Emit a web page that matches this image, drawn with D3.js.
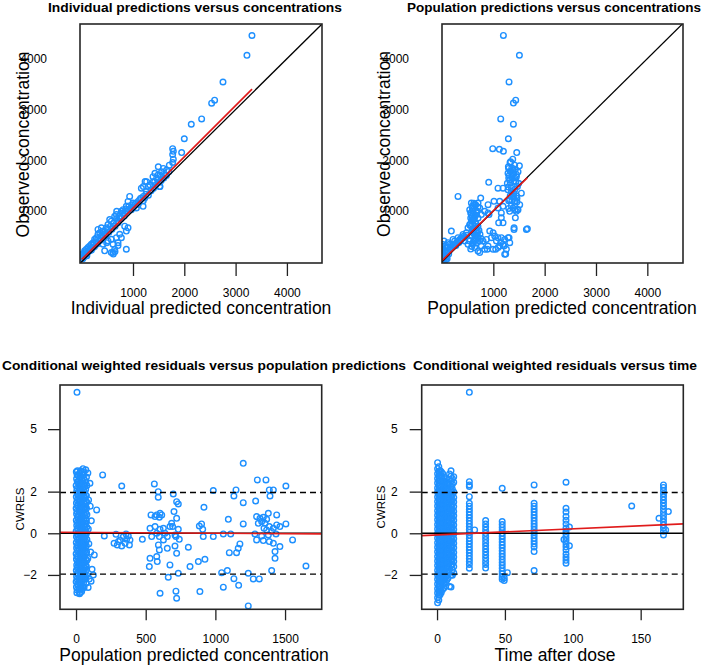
<!DOCTYPE html>
<html><head><meta charset="utf-8">
<script src="https://cdn.jsdelivr.net/npm/d3@7"></script>
<style>body{margin:0;background:#fff} text{font-family:"Liberation Sans",Arial,sans-serif;fill:#000}</style>
</head><body>
<svg id="c" width="708" height="666"></svg>
<script>
// ---------- DATA ----------
// Panel 1: individual prediction vs observed concentration
const ipredObs = [[3319,4457],[3221,4067],[2754,3541],[2591,3183],[2533,3125],[2338,2813],[2136,2709],[2000,2423],[1948,2150],[1773,2228],[1786,2176],[1773,2111],[1786,2020],[1773,1955],[1708,1903],[1591,1838],[1493,1871],[1656,1806],[1558,1773],[1428,1741],[1526,1708],[1623,1708],[1461,1643],[1266,1578],[1396,1578],[1201,1481],[1331,1514],
[1488,1708],[1390,1676],[1520,1481],[1293,1481],[1163,1448],[1260,1384],[935,1286],[903,1189],[1000,1156],[1130,1221],[1228,1254],[1196,1091],[1066,1059],[870,1091],[968,1026],[838,961],[773,994],[643,896],[741,864],[578,799],[708,766],[611,701],[513,734],[481,669],[416,604],[351,571],[318,539],[286,474],[221,376],[156,311],[91,246],[58,181],[26,149],[10,120],
[870,246],[708,376],[611,344],[643,246],[578,181],[610,181],[708,318],[448,214],[416,344],[773,474],[838,701],[903,669],[870,604],[741,539],[676,474],[578,441],[513,409],
[383,506],[253,441],[188,344],[123,279],[58,214],[6,149],[318,636],[383,669],[546,831],[676,929],[806,1026],[1033,1124],[1098,1189],[1358,1416],[1423,1579],[1553,1676],[448,539],[286,376],[221,279],[156,214],[91,149],[26,84],[20,60],
[1236,1579],[1526,1481],[682,994],[487,376],[649,200],[616,150],[877,994],[1201,1286],
[40,90],[70,150],[100,120],[130,200],[160,260],[190,230],[220,330],[250,300],[280,420],[300,350],[330,460],[360,420],[390,520],[420,470],[450,600],[470,520],[500,640],[530,580],[560,700],[590,640],[620,760],[650,700],[680,850],[710,800],[740,900],[770,850],[800,960],[830,900],[860,1040],[890,1000],[920,1100],[950,1050],[980,1120],[1010,1080],[1050,1150],[1100,1130],[1150,1250],[1200,1200],[1250,1330],[1300,1310],[1350,1400],[1400,1450],[1450,1520],[1500,1560],[1550,1600],[1600,1650],[1650,1700],[1700,1780]];
const ipredFit = [[0,45],[3320,3400]];

// Panel 2: population prediction vs observed concentration
const predObs = [[1196,4457],[1508,4067],[1306,3541],[1436,3183],[1391,3125],[1144,2813],[1391,2709],[1293,2423],[988,2228],[1118,2215],[1196,2176],[1456,2150],[1378,2020],[1326,1955],[1508,1890],[1293,1871],
[1338,1968],[1416,1903],[1299,1838],[1384,1806],[1481,1773],[1286,1741],[1364,1676],[1449,1676],[1319,1611],[1403,1578],[1494,1546],[1273,1546],[910,1565],[1091,1448],[1189,1448],[1286,1416],[312,1286],[1546,1351],[1351,1383],[1384,1286],[1319,1221],[1416,1189],[1481,1026],[1384,1059],[1319,993],[1449,993],[1514,1124],[1124,1189],[1189,1091],[1091,1059],[1156,961],[1104,766],[1189,766],[1156,864],[1429,864],[1403,636],[1644,636],
[572,1156],[637,1123],[702,1156],[735,1058],[670,993],[605,993],[540,1026],[572,928],[637,896],[702,863],[767,928],[832,993],[897,1123],[897,961],[182,603],
[52,310],[117,375],[214,440],[312,473],[409,538],[474,570],[507,668],[540,733],[572,798],[605,830],[20,245],[10,180],[84,278],[150,343],[247,408],[344,440],[377,473],[280,375],[182,330],[117,278],[52,213],[20,148],[84,180],[10,83],[10,278],[10,343],[39,408],
[540,408],[605,375],[670,375],[735,408],[800,408],[865,440],[962,473],[1027,505],[1092,473],[1157,473],[1222,440],[1287,473],[1320,375],[1190,343],[1092,278],[995,245],[897,310],[767,310],[637,278],[702,213],[735,180],[1125,310],[1222,148],[1255,245],[930,603],[995,570],[1060,408],[832,245],[507,343],[442,408],[670,505],
[559,960],[585,895],[624,830],[650,765],[572,700],[624,635],[670,668],[605,570],[689,603],[650,538],
[1663,650],[1404,668],[1241,150],[1306,474],[1143,376],[1208,310],[883,246],[1046,246],
[1350,1450],[1420,1430],[1450,1300],[1400,1250],[1300,1200],[1460,1180],[1350,1100],[1420,1020],[1470,1030],[1013,1189],[916,928],[754,1253],[676,961],[656,1123],[590,1092],
[560,250],[580,300],[600,350],[620,420],[640,480],[660,520],[690,560],[580,600],[610,650],[640,700],[660,760],[600,800],[630,860],[660,920],[610,940],[680,1000],[590,1050],[700,1080],[620,1150],[560,860],[545,720],[700,700],[720,620],[740,540],[700,480],[760,460],[650,420],[580,520],[620,560],
[30,60],[60,120],[90,100],[120,200],[150,240],[180,280],[210,300],[240,340],[270,320],[300,400],[330,380],[360,420],[390,460],[420,500],[450,480],[480,520],[40,30],[70,40],[100,60],[130,150],[20,100],[5,30],
[1310,1700],[1330,1780],[1360,1850],[1400,1750],[1430,1820],[1450,1720],[1300,1650],[1420,1650],[1370,1720],[1330,1560],[1440,1580],[1470,1480],[1290,1470],[1400,1350],[1330,1300],[1360,1200],[1300,1050],[1420,1100],[1460,1250]];
const predFit = [[0,20],[1660,1650]];

// Panel 3: population prediction vs CWRES
const predCwres = [
[2,2.95],[4,2.62],[1,2.3],[5,2.02],[2,1.75],[3,1.46],[1,1.2],[4,0.92],[2,0.63],[5,0.37],[1,0.1],[3,-0.17],[2,-0.44],[4,-0.71],[1,-0.98],[3,-1.25],[5,-1.52],[2,-1.79],[4,-2.06],[1,-2.33],[3,-2.58],[6,-2.85],
[18,2.78],[16,2.48],[20,2.2],[15,1.9],[19,1.62],[17,1.33],[21,1.05],[16,0.78],[19,0.5],[18,0.22],[15,-0.05],[20,-0.31],[17,-0.58],[19,-0.85],[16,-1.12],[21,-1.39],[18,-1.66],[15,-1.93],[20,-2.2],[17,-2.47],[22,-2.7],
[33,3.0],[31,2.7],[35,2.4],[32,2.12],[34,1.84],[30,1.56],[36,1.28],[33,1.0],[31,0.72],[35,0.44],[32,0.16],[34,-0.12],[30,-0.4],[36,-0.68],[33,-0.96],[31,-1.24],[35,-1.52],[32,-1.8],[34,-2.08],[30,-2.36],[36,-2.62],[40,-2.8],
[50,3.1],[48,2.8],[46,2.5],[49,2.22],[47,1.94],[50,1.66],[45,1.38],[48,1.1],[46,0.82],[49,0.54],[47,0.26],[50,-0.02],[45,-0.3],[48,-0.58],[46,-0.86],[49,-1.14],[47,-1.42],[50,-1.7],[45,-1.98],[48,-2.26],[52,-2.55],
[62,2.55],[64,2.25],[61,1.97],[65,1.69],[62,1.41],[60,1.13],[64,0.85],[61,0.57],[63,0.29],[65,0.01],[60,-0.27],[64,-0.55],[62,-0.83],[61,-1.11],[63,-1.39],[65,-1.67],[60,-1.95],[64,-2.2],
[75,2.7],[78,2.3],[74,1.8],[77,1.5],[75,1.2],[78,0.9],[74,0.6],[77,0.3],[75,0.0],[78,-0.3],[74,-0.6],[76,-0.9],[78,-1.3],[74,-1.6],[76,-2.0],
[85,2.9],[70,3.05],[90,1.6],[88,0.2],[92,-0.5],[85,-1.2],[95,-2.2],[87,-2.6],[25,-2.9],[10,3.0],
[8,2.8],[9,2.47],[7,2.16],[10,1.88],[8,1.6],[9,1.32],[7,1.05],[10,0.78],[8,0.5],[9,0.23],[7,-0.04],[10,-0.3],[8,-0.57],[9,-0.84],[7,-1.11],[10,-1.38],[8,-1.65],[9,-1.92],[7,-2.2],[10,-2.45],[8,-2.72],
[26,2.9],[25,2.6],[27,2.33],[24,2.05],[26,1.77],[25,1.48],[27,1.19],[24,0.91],[26,0.64],[25,0.36],[27,0.08],[24,-0.2],[26,-0.46],[25,-0.73],[27,-1.0],[24,-1.27],[26,-1.54],[25,-1.81],[27,-2.08],[24,-2.35],[26,-2.6],[28,-2.85],
[41,2.92],[40,2.6],[42,2.28],[39,2.0],[41,1.72],[40,1.43],[42,1.14],[39,0.86],[41,0.58],[40,0.3],[42,0.02],[39,-0.26],[41,-0.54],[40,-0.82],[42,-1.1],[39,-1.38],[41,-1.66],[40,-1.94],[42,-2.22],[39,-2.48],[43,-2.7],
[56,2.95],[55,2.65],[57,2.36],[54,2.08],[56,1.8],[55,1.52],[57,1.24],[54,0.96],[56,0.68],[55,0.4],[57,0.12],[54,-0.16],[56,-0.44],[55,-0.72],[57,-1.0],[54,-1.28],[56,-1.56],[55,-1.84],[57,-2.1],[54,-2.38],[58,-2.6],
[70,2.45],[69,2.1],[71,1.83],[68,1.55],[70,1.27],[69,0.99],[71,0.71],[68,0.43],[70,0.15],[69,-0.13],[71,-0.41],[68,-0.69],[70,-0.97],[69,-1.25],[71,-1.53],[68,-1.81],[70,-2.1],[72,-2.4],
[7,6.77],[191,2.8],[148,1.12],[203,-0.13],[131,-1.04],[115,-1.73],[124,-2.0],[110,0.6],[105,-0.9],[100,2.4],[102,1.3],[108,-2.3],
[328,2.27],[287,-0.05],[273,-0.48],[296,-0.56],[316,-0.32],[340,-0.16],[359,-0.03],[375,-0.13],[387,-0.32],[383,-0.56],[352,-0.48],[328,-0.61],[304,-0.4],[363,-0.29],[476,-0.29],
[562,2.37],[590,2.0],[590,1.73],[698,1.89],[722,1.52],[734,1.41],[538,0.88],[579,0.88],[603,0.96],[615,0.88],[598,0.77],[567,0.8],
[703,1.04],[722,0.72],[686,0.48],[674,0.32],[734,0.19],[710,-0.08],[693,0.32],
[531,0.24],[567,0.32],[603,0.19],[627,0.24],[638,0.0],[579,0.0],[543,-0.16],[598,-0.16],[627,-0.32],[655,-0.16],[717,-0.16],[741,-0.29],
[591,-0.56],[598,-0.8],[655,-0.72],[710,-0.61],[722,-0.96],[806,-0.67],[531,-1.2],[579,-1.12],[526,-1.6],[583,-1.36],[674,-1.52],
[662,-2.11],[734,-1.92],[603,-2.88],[717,-2.78],[722,-3.12],[818,-1.6],[878,-1.36],[925,-1.25],[889,-2.8],
[901,0.45],[909,0.19],[885,0.35],[913,-0.16],[985,-0.16],[918,1.25],[985,2.05],
[1057,-0.03],[1110,-0.03],[1093,0.67],[1200,0.45],[1100,-0.93],[1152,-0.93],[1164,-0.72],[1176,-0.51],[1133,1.79],[1148,2.08],[1200,1.47],[1200,3.36],
[1045,-1.89],[1086,-1.79],[1133,-2.18],[1167,-2.5],[1057,-2.59],[1236,-1.92],[1272,-2.19],[1315,-2.19],[1236,-3.49],[1289,1.55],[1301,2.56],
[1296,0.8],[1320,0.72],[1344,0.77],[1368,0.67],[1332,0.56],[1308,0.48],[1356,0.48],[1380,0.96],[1387,0.32],[1416,0.24],[1440,0.88],[1440,0.4],[1463,0.32],[1349,0.24],[1368,0.16],[1404,0.08],[1435,-0.03],[1380,-0.08],[1332,-0.13],[1296,-0.32],[1344,-0.35],[1387,-0.4],[1416,-0.48],[1463,-0.64],[1428,-0.88],[1428,-1.2],[1404,-1.79],[1506,0.45],[1554,-0.32],[1392,1.79],[1387,2.08],[1416,2.08],[1506,2.27],[1363,2.56],[1284,-0.03],[1650,-1.57]];
const cwresPredFit = [[-115,0.05],[1763,-0.03]];

// Panel 4: time after dose vs CWRES (grouped by sampling time)
const timeGroups = [
[0.4,[3.39,3.1,2.86,2.63,2.41,2.18,1.97,1.74,1.53,1.31,1.08,0.87,0.65,0.42,0.21,-0.01,-0.23,-0.46,-0.67,-0.89,-1.12,-1.33,-1.55,-1.78,-1.99,-2.21,-2.44,-2.66,-2.87,-3.09,-3.34]],
[1.3,[3.2,2.97,2.74,2.52,2.3,2.07,1.85,1.63,1.42,1.2,0.97,0.76,0.54,0.32,0.1,-0.12,-0.34,-0.56,-0.78,-1.0,-1.22,-1.44,-1.66,-1.88,-2.1,-2.32,-2.55,-2.77,-2.98,-3.2]],
[2.2,[3.02,2.77,2.52,2.3,2.07,1.85,1.62,1.4,1.19,0.96,0.74,0.53,0.3,0.08,-0.13,-0.35,-0.57,-0.79,-1.01,-1.23,-1.46,-1.67,-1.9,-2.12,-2.33,-2.56,-2.78,-2.95]],
[3.1,[2.95,2.72,2.48,2.25,2.02,1.79,1.57,1.35,1.13,0.91,0.69,0.47,0.25,0.03,-0.19,-0.41,-0.63,-0.85,-1.07,-1.29,-1.51,-1.73,-1.95,-2.17,-2.39,-2.62,-2.84]],
[4.1,[2.87,2.6,2.36,2.13,1.9,1.68,1.46,1.24,1.02,0.8,0.58,0.36,0.14,-0.08,-0.3,-0.52,-0.74,-0.96,-1.18,-1.4,-1.62,-1.84,-2.06,-2.28,-2.5,-2.7]],
[5.2,[2.7,2.48,2.25,2.02,1.79,1.57,1.35,1.13,0.91,0.69,0.47,0.25,0.03,-0.19,-0.41,-0.63,-0.85,-1.07,-1.29,-1.51,-1.73,-1.95,-2.17,-2.4,-2.62]],
[6.2,[2.5,2.27,2.04,1.82,1.6,1.38,1.16,0.94,0.72,0.5,0.28,0.06,-0.16,-0.38,-0.6,-0.82,-1.04,-1.26,-1.48,-1.7,-1.92,-2.14,-2.38]],
[7.1,[2.62,2.39,2.16,1.93,1.71,1.49,1.27,1.05,0.83,0.61,0.39,0.17,-0.05,-0.27,-0.49,-0.71,-0.93,-1.15,-1.37,-1.59,-1.81,-2.03,-2.26]],
[8.1,[2.35,2.1,1.86,1.63,1.41,1.19,0.97,0.75,0.53,0.31,0.09,-0.13,-0.35,-0.57,-0.79,-1.01,-1.23,-1.45,-1.67,-1.9,-2.15]],
[9.2,[2.85,2.6,2.37,2.13,1.89,1.67,1.45,1.23,1.01,0.79,0.57,0.35,0.13,-0.09,-0.31,-0.53,-0.75,-0.97,-1.19,-1.42,-1.65,-2.56]],
[10.3,[3.0,2.75,2.5,2.24,2.0,1.78,1.56,1.34,1.12,0.9,0.68,0.46,0.24,0.02,-0.2,-0.42,-0.64,-0.86,-1.08,-1.3,-1.55,-2.0,-2.58]],
[11.3,[2.62,2.36,2.11,1.87,1.61,1.39,1.17,0.95,0.73,0.51,0.29,0.07,-0.15,-0.37,-0.59,-0.81,-1.03,-1.25,-1.48,-1.75,-2.02]],
[12.3,[2.72,2.45,1.98,1.72,1.5,1.28,1.06,0.84,0.62,0.4,0.18,-0.04,-0.26,-0.48,-0.7,-0.92,-1.14,-1.36,-1.6,-1.9]],
[23.8,[6.77,2.48,2.32,2.25,1.76,1.44,1.3,1.16,1.02,0.88,0.74,0.6,0.46,0.32,0.18,0.04,-0.1,-0.24,-0.38,-0.52,-0.66,-0.8,-0.94,-1.08,-1.22,-1.36,-1.5,-1.68]],
[27.7,[0.16]],
[35.8,[0.61,0.45,0.3,0.15,0.0,-0.15,-0.3,-0.45,-0.6,-0.75,-0.9,-1.05,-1.2,-1.35,-1.5,-1.67]],
[48,[2.16,0.56,0.42,0.28,0.14,0.0,-0.14,-0.28,-0.42,-0.56,-0.7,-0.84,-0.98,-1.12,-1.26,-1.4,-1.54,-1.68,-1.82,-1.95,-2.1,-2.21]],
[49.5,[-2.15,-2.27]],[51.8,[-1.89]],
[71.5,[2.32,1.44,1.3,1.16,1.02,0.88,0.74,0.6,0.46,0.32,0.18,0.04,-0.1,-0.24,-0.38,-0.52,-0.66,-0.88,-1.79]],
[95,[2.45,1.2,1.02,0.8,0.62,0.45,0.25,0.1,-0.05,-0.2,-0.35,-0.5,-0.65,-0.8,-1.0,-1.15,-1.3,-1.44]],
[93.5,[-0.3]],[97.5,[-0.6,0.3]],
[143.4,[1.31]],
[166.8,[2.32,2.2,2.05,1.9,1.75,1.6,1.45,1.3,1.15,1.0,0.85,0.7,0.55,0.4,0.25,0.1,-0.08]],
[163.5,[0.72]],[170.4,[1.04]],[168.4,[0.16]]];
const cwresTimeFit = [[-11.3,-0.11],[181.4,0.45]];

const concTicks = [1000,2000,3000,4000];
const predTicks = [0,500,1000,1500];
const timeTicks = [0,50,100,150];
const cwresTicks = [-2,0,2,5];
const cwresRefs = [-1.96,1.96];

const titles = ["Individual predictions versus concentrations","Population predictions versus concentrations",
  "Conditional weighted residuals versus population predictions","Conditional weighted residuals versus time"];
const xLabels = ["Individual predicted concentration","Population predicted concentration","Population predicted concentration","Time after dose"];
const yLabels = ["Observed concentration","Observed concentration","CWRES","CWRES"];

// ---------- DRAW ----------
const svg = d3.select('#c');
const BLUE = '#1e90ff', RED = '#e01b1b';

function panel(o, i) {
  const x = d3.scaleLinear().domain(o.xd).range([o.l, o.r]);
  const y = d3.scaleLinear().domain(o.yd).range([o.b, o.t]);
  const g = svg.append('g');
  const cid = 'clip' + i;
  svg.append('clipPath').attr('id', cid).append('rect')
    .attr('x', o.l).attr('y', o.t).attr('width', o.r - o.l).attr('height', o.b - o.t);
  const inner = g.append('g').attr('clip-path', `url(#${cid})`);
  inner.selectAll('circle').data(o.pts).enter().append('circle')
    .attr('cx', d => x(d[0])).attr('cy', d => y(d[1])).attr('r', 2.8)
    .attr('fill', 'none').attr('stroke', BLUE).attr('stroke-width', 1.4);
  const line = d3.line().x(d => x(d[0])).y(d => y(d[1]));
  if (o.identity) {
    inner.append('path').attr('d', line([[o.xd[0]-500,o.xd[0]-500],[o.xd[1]+500,o.xd[1]+500]]))
      .attr('stroke', '#000').attr('stroke-width', 1.3).attr('fill', 'none');
  }
  if (o.refs) {
    inner.selectAll('.ref').data(o.refs).enter().append('line')
      .attr('x1', o.l).attr('x2', o.r).attr('y1', d => y(d)).attr('y2', d => y(d))
      .attr('stroke', '#000').attr('stroke-width', 1.4).attr('stroke-dasharray', '6,4');
    inner.append('line').attr('x1', o.l).attr('x2', o.r).attr('y1', y(0)).attr('y2', y(0))
      .attr('stroke', '#000').attr('stroke-width', 1.4);
  }
  inner.append('path').attr('d', line(o.fit)).attr('stroke', RED).attr('stroke-width', 1.7).attr('fill', 'none');

  // axes
  const ax = g.append('g').attr('transform', `translate(0,${o.b})`)
    .call(d3.axisBottom(x).tickValues(o.xt).tickSize(o.xtl).tickPadding(o.xtp).tickFormat(d3.format('d')));
  const ay = g.append('g').attr('transform', `translate(${o.l},0)`)
    .call(d3.axisLeft(y).tickValues(o.yt).tickSize(o.ytl).tickPadding(o.ytp).tickFormat(d3.format('d')));
  [ax, ay].forEach(a => {
    a.select('.domain').remove();
    a.selectAll('line').attr('stroke', '#222').attr('stroke-width', 1.3);
    a.selectAll('text').attr('font-size', 12).attr('fill', '#111').style('font-family', '"Liberation Sans",Arial,sans-serif');
  });
  g.append('rect').attr('x', o.l).attr('y', o.t).attr('width', o.r - o.l).attr('height', o.b - o.t)
    .attr('fill', 'none').attr('stroke', '#262626').attr('stroke-width', 1.6);

  // title and axis labels
  g.append('text').attr('x', o.tx).attr('y', o.ty).attr('text-anchor', 'middle')
    .attr('font-size', 13).attr('font-weight', 'bold').attr('textLength', o.tw).attr('lengthAdjust', 'spacingAndGlyphs')
    .text(titles[i]);
  g.append('text').attr('x', o.xlx).attr('y', o.xly).attr('text-anchor', 'middle')
    .attr('font-size', 17.5).attr('fill', '#111').text(xLabels[i]);
  g.append('text').attr('transform', `translate(${o.ylx},${o.yly}) rotate(-90)`).attr('text-anchor', 'middle')
    .attr('font-size', o.yls).attr('fill', '#111').text(yLabels[i]);
}

const cfgs = [
  {l:80,r:322,t:24,b:263,xd:[-33,4684],yd:[-25,4684],pts:ipredObs,fit:ipredFit,identity:true,
   xt:concTicks,yt:concTicks,xtl:13,xtp:12,ytl:0,ytp:33,
   tx:195,ty:11.5,tw:294,xlx:201,xly:314,ylx:29,yly:144.5,yls:17.5},
  {l:442,r:683,t:24,b:263,xd:[0,4695],yd:[-25,4683],pts:predObs,fit:predFit,identity:true,
   xt:concTicks,yt:concTicks,xtl:13,xtp:12,ytl:0,ytp:33,
   tx:554,ty:11.5,tw:294,xlx:562,xly:314,ylx:390,yly:144,yls:17.5},
  {l:60,r:321.7,t:385,b:609.3,xd:[-115,1763],yd:[-3.65,7.12],pts:predCwres,fit:cwresPredFit,refs:cwresRefs,
   xt:predTicks,yt:cwresTicks,xtl:11,xtp:14.5,ytl:12,ytp:11,
   tx:204,ty:369.5,tw:404,xlx:194,xly:661,ylx:23.5,yly:509,yls:11.5},
  {l:421.7,r:683.3,t:385,b:609.3,xd:[-11.3,181.4],yd:[-3.65,7.12],
   pts:timeGroups.flatMap(([t, ys]) => ys.map(v => [t, v])),fit:cwresTimeFit,refs:cwresRefs,
   xt:timeTicks,yt:cwresTicks,xtl:11,xtp:14.5,ytl:12,ytp:12,
   tx:555,ty:369.5,tw:284,xlx:555,xly:661,ylx:385,yly:507,yls:11.5}
];
cfgs.forEach(panel);
</script>
</body></html>
